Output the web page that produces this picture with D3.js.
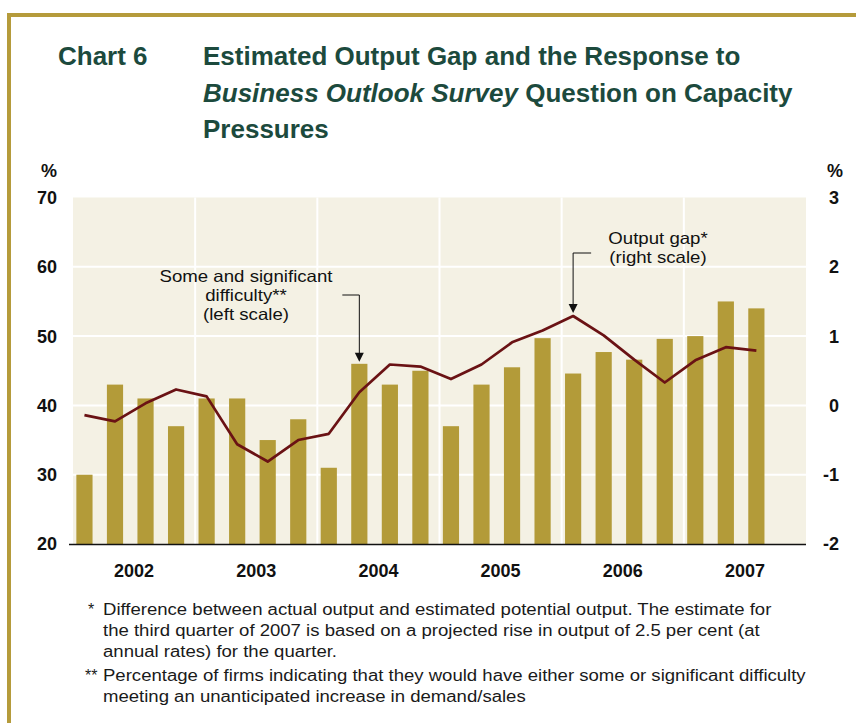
<!DOCTYPE html>
<html>
<head>
<meta charset="utf-8">
<script src="https://cdn.jsdelivr.net/npm/d3@7"></script>
<style>
  body { margin: 0; background: #fff; }
  svg { display: block; font-family: 'Liberation Sans', Arial, sans-serif; }
</style>
</head>
<body>
<div id="chart"></div>
<script>
// Data
const years = ['2002', '2003', '2004', '2005', '2006', '2007'];
const quarterNames = ['Q1', 'Q2', 'Q3', 'Q4'];
// Some and significant difficulty, % of firms (left scale), 2002Q1 - 2007Q3
const difficulty = [30, 43, 41, 37, 41, 41, 35, 38, 31, 46, 43, 45,
    37, 43, 45.5, 49.7, 44.6, 47.7, 46.6, 49.6, 50, 55, 54];
// Output gap, % (right scale)
const outputGap = [-0.14, -0.23, 0.03, 0.23, 0.13, -0.56, -0.81, -0.50, -0.41, 0.19, 0.59, 0.56,
    0.38, 0.59, 0.91, 1.08, 1.29, 1.01, 0.66, 0.33, 0.65, 0.84, 0.79];
const leftTicks = [20, 30, 40, 50, 60, 70];
const rightTicks = [-2, -1, 0, 1, 2, 3];

const footnotes = [
    ['*', 'Difference between actual output and estimated potential output. The estimate for'],
    ['', 'the third quarter of 2007 is based on a projected rise in output of 2.5 per cent (at'],
    ['', 'annual rates) for the quarter.'],
    ['**', 'Percentage of firms indicating that they would have either some or significant difficulty'],
    ['', 'meeting an unanticipated increase in demand/sales']
];

const width = 856, height = 723;
const plot = { left: 73, right: 806, top: 197.5, bottom: 544 };
const gold = '#b59b3b';
const barColor = '#b39b39';
const bgColor = '#f4f1e4';
const lineColor = '#6a1214';
const titleColor = '#1c4a3d';

const quarters = years.flatMap(y => quarterNames.map(q => y + q));
const series = difficulty.map((d, i) => ({ q: quarters[i], bar: d, gap: outputGap[i] }));

const svg = d3.select('#chart').append('svg')
    .attr('width', width)
    .attr('height', height);

svg.append('rect').attr('width', width).attr('height', height).attr('fill', '#fff');

// Gold frame (top and left)
svg.append('rect').attr('x', 7).attr('y', 13).attr('width', width - 7).attr('height', 4).attr('fill', gold);
svg.append('rect').attr('x', 7).attr('y', 13).attr('width', 4).attr('height', height - 13).attr('fill', gold);

// Title
const title = svg.append('g').attr('fill', titleColor).style('font-weight', 'bold').style('font-size', '26px');
title.append('text').attr('x', 58).attr('y', 65).text('Chart 6');
title.append('text').attr('x', 203).attr('y', 65).text('Estimated Output Gap and the Response to');
const t2 = title.append('text').attr('x', 203).attr('y', 102);
t2.append('tspan').style('font-style', 'italic').text('Business Outlook Survey');
t2.append('tspan').text(' Question on Capacity');
title.append('text').attr('x', 203).attr('y', 138).text('Pressures');

// Scales
const x = d3.scaleBand().domain(quarters).range([plot.left, plot.right]);
const bw = x.bandwidth();
const barOffset = bw * 0.11, barWidth = bw * 0.53;
const cx = q => x(q) + barOffset + barWidth / 2;
const yL = d3.scaleLinear().domain([20, 70]).range([plot.bottom, plot.top]);
const yR = d3.scaleLinear().domain([-2, 3]).range([plot.bottom, plot.top]);

// Plot background
svg.append('rect')
    .attr('x', plot.left).attr('y', plot.top)
    .attr('width', plot.right - plot.left).attr('height', plot.bottom - plot.top)
    .attr('fill', bgColor);

// Gridlines
svg.append('g').selectAll('line')
    .data(leftTicks.slice(1, -1))
    .join('line')
    .attr('x1', plot.left).attr('x2', plot.right)
    .attr('y1', d => yL(d)).attr('y2', d => yL(d))
    .attr('stroke', '#fff').attr('stroke-width', 2);

svg.append('g').selectAll('line')
    .data(years.slice(1))
    .join('line')
    .attr('x1', d => x(d + 'Q1')).attr('x2', d => x(d + 'Q1'))
    .attr('y1', plot.top).attr('y2', plot.bottom)
    .attr('stroke', '#fff').attr('stroke-width', 2);

// Bars
svg.append('g').selectAll('rect')
    .data(series)
    .join('rect')
    .attr('x', d => x(d.q) + barOffset)
    .attr('width', barWidth)
    .attr('y', d => yL(d.bar))
    .attr('height', d => yL(20) - yL(d.bar))
    .attr('fill', barColor);

// Output gap line
svg.append('path')
    .datum(series)
    .attr('d', d3.line().x(d => cx(d.q)).y(d => yR(d.gap)))
    .attr('fill', 'none')
    .attr('stroke', lineColor)
    .attr('stroke-width', 2.7)
    .attr('stroke-linejoin', 'round');

// Bottom axis line
svg.append('line')
    .attr('x1', plot.left - 4).attr('x2', plot.right)
    .attr('y1', plot.bottom + 0.5).attr('y2', plot.bottom + 0.5)
    .attr('stroke', '#111').attr('stroke-width', 1.5);

// Axis labels
const axisText = svg.append('g').style('font-weight', 'bold').style('font-size', '18px').attr('fill', '#111');
axisText.selectAll('.yl')
    .data(leftTicks)
    .join('text')
    .attr('class', 'yl')
    .attr('x', 57).attr('y', d => yL(d))
    .attr('dy', '0.36em')
    .attr('text-anchor', 'end')
    .text(d => d);
axisText.selectAll('.yr')
    .data(rightTicks)
    .join('text')
    .attr('class', 'yr')
    .attr('x', 839).attr('y', d => yR(d))
    .attr('dy', '0.36em')
    .attr('text-anchor', 'end')
    .text(d => d);
axisText.append('text').attr('x', 57).attr('y', 177).attr('text-anchor', 'end').text('%');
axisText.append('text').attr('x', 827).attr('y', 177).text('%');
axisText.selectAll('.year')
    .data(years)
    .join('text')
    .attr('class', 'year')
    .attr('x', d => x(d + 'Q1') + bw * 2)
    .attr('y', 577)
    .attr('text-anchor', 'middle')
    .text(d => d);

// Annotations (text slightly stretched horizontally, like the original)
function callout(tipX, tipY, elbowDx, elbowY, lines, textX, textY) {
    const g = svg.append('g');
    g.append('path')
        .attr('d', `M${tipX + elbowDx},${elbowY}H${tipX}V${tipY - 8}`)
        .attr('fill', 'none')
        .attr('stroke', '#111')
        .attr('stroke-width', 1);
    g.append('path')
        .attr('d', `M${tipX - 4.5},${tipY - 9}L${tipX + 4.5},${tipY - 9}L${tipX},${tipY}Z`)
        .attr('fill', '#111');
    g.append('g')
        .attr('transform', `translate(${textX},0) scale(1.13,1)`)
        .selectAll('text')
        .data(lines)
        .join('text')
        .attr('x', 0)
        .attr('y', (d, i) => textY + i * 19)
        .attr('text-anchor', 'middle')
        .style('font-size', '16.5px')
        .attr('fill', '#111')
        .text(d => d);
}

const diffIdx = quarters.indexOf('2004Q2');
callout(cx(quarters[diffIdx]), yL(difficulty[diffIdx]) - 2, -17, 295,
    ['Some and significant', 'difficulty**', '(left scale)'], 246, 282);

const gapIdx = quarters.indexOf('2006Q1');
callout(cx(quarters[gapIdx]), yR(outputGap[gapIdx]) - 3, 18, 253,
    ['Output gap*', '(right scale)'], 658, 244);

// Footnotes
const noteSx = 1.16;
const noteY = [615, 636, 657, 681, 702];
const marks = svg.append('g').style('font-size', '16px').attr('fill', '#1a1a1a');
const notes = svg.append('g')
    .attr('transform', `translate(103,0) scale(${noteSx},1)`)
    .style('font-size', '16px')
    .attr('fill', '#1a1a1a');
footnotes.forEach(([mark, text], i) => {
    if (mark) marks.append('text').attr('x', mark.length > 1 ? 85 : 88).attr('y', noteY[i]).text(mark);
    notes.append('text').attr('x', 0).attr('y', noteY[i]).text(text);
});
</script>
</body>
</html>
